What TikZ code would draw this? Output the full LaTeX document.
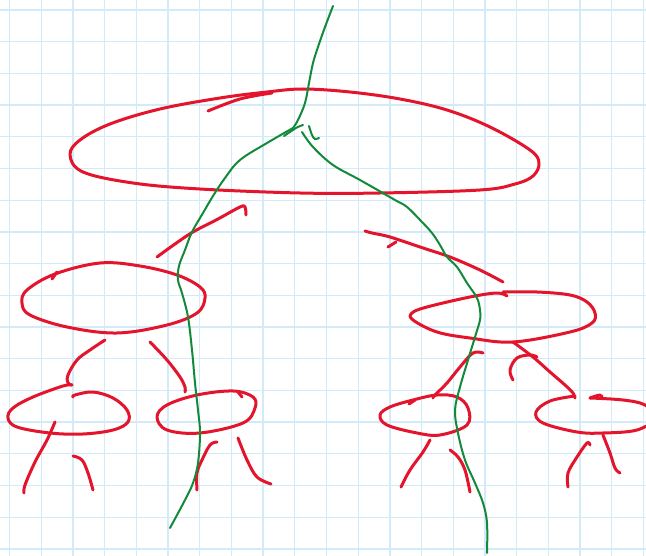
\documentclass[tikz,border=0pt]{standalone}
\definecolor{inkred}{HTML}{E3142C}
\definecolor{inkgreen}{HTML}{128A3A}
\definecolor{gridblue}{HTML}{D3EAF8}
\tikzset{
  redstroke/.style={draw=inkred, line width=3pt, line cap=round, line join=round},
  greenstroke/.style={draw=inkgreen, line width=2pt, line cap=round, line join=round},
  gridline/.style={draw=gridblue, line width=1.3pt},
}
\begin{document}
\begin{tikzpicture}[x=1pt,y=-1pt]
\useasboundingbox (0,0) rectangle (646,556);
\fill[white] (0,0) rectangle (646,556);
\begin{scope}
\clip (0,0) rectangle (646,556);
% graph paper
\foreach \k in {0,...,20} { \draw[gridline] ({9.5+31.7*\k},0) -- ({9.5+31.7*\k},556); }
\foreach \k in {0,...,17} { \draw[gridline] (0,{10+31.7*\k}) -- (646,{10+31.7*\k}); }

% ---------- red tree ----------
% top ellipse
\draw[redstroke] plot[smooth cycle, tension=0.6] coordinates {(350,92) (303,89) (267,92) (220,98) (160,109) (110,124) (80,140) (70,155) (83,172) (133,183) (200,189) (300,193) (380,193) (480,190) (515,184) (533,176) (539,163) (530,150) (490,127) (447,110) (400,99)};
\draw[redstroke] plot[smooth, tension=0.6] coordinates {(208,111) (240,99) (272,93)};
% connectors from top
\draw[redstroke] plot[smooth, tension=0.6] coordinates {(157,257) (175,244) (193,232) (218,219) (240,207) (245,207) (246,215)};
\draw[redstroke] plot[smooth, tension=0.6] coordinates {(365,231) (372,233) (390,237) (423,248) (450,257) (480,270) (503,282)};
\draw[redstroke] (388,247) -- (396,242);

% left middle ellipse
\draw[redstroke] plot[smooth cycle, tension=0.6] coordinates {(55,274) (100,263) (140,266) (177,275) (200,287) (205,298) (197,313) (167,325) (117,333) (67,327) (30,315) (22,303) (27,290)};
\draw[redstroke] (52,279) -- (57,272);
% connectors from left middle
\draw[redstroke] plot[smooth, tension=0.6] coordinates {(105,340) (90,350) (77,360) (68,375) (68,383) (72,385)};
\draw[redstroke] plot[smooth, tension=0.6] coordinates {(150,342) (167,360) (180,377) (185,387) (185,392)};

% lower-left-left ellipse
\draw[redstroke] plot[smooth, tension=0.6] coordinates {(72,385) (63,386) (33,397) (13,408) (8,418) (17,427) (50,433) (83,434) (113,430) (128,422) (127,410) (113,398) (93,392) (75,395) (73,397)};
\draw[redstroke] plot[smooth, tension=0.6] coordinates {(55,422) (47,440) (35,462) (25,485) (24,493)};
\draw[redstroke] plot[smooth, tension=0.6] coordinates {(73,456) (82,460) (88,473) (93,490)};

% lower-left-right ellipse
\draw[redstroke] plot[smooth cycle, tension=0.6] coordinates {(233,391) (253,397) (255,408) (243,423) (200,433) (167,430) (157,417) (167,405) (197,395)};
\draw[redstroke] (238,392) -- (242,397);
\draw[redstroke] plot[smooth, tension=0.6] coordinates {(217,442) (210,445) (202,460) (197,473) (197,490)};
\draw[redstroke] plot[smooth, tension=0.6] coordinates {(238,438) (247,460) (257,477) (271,484)};

% right middle ellipse
\draw[redstroke] plot[smooth, tension=0.6] coordinates {(503,292) (537,292) (570,295) (587,302) (595,313) (592,323) (570,332) (513,342) (470,338) (437,332) (413,320) (412,313) (427,307) (470,297) (497,293) (507,296)};
% connectors from right middle
\draw[redstroke] plot[smooth, tension=0.6] coordinates {(483,353) (473,353) (460,367) (447,383) (435,395) (433,398)};
\draw[redstroke] plot[smooth, tension=0.6] coordinates {(513,342) (533,357) (550,372) (565,385) (573,393) (575,398)};
\draw[redstroke] plot[smooth, tension=0.6] coordinates {(513,380) (510,370) (517,358) (530,355) (537,357)};

% lower-right-left ellipse
\draw[redstroke] plot[smooth cycle, tension=0.6] coordinates {(413,400) (437,395) (457,397) (468,408) (467,425) (440,435) (417,433) (387,425) (380,415) (390,407)};
\draw[redstroke] (409,404) -- (415,400);
\draw[redstroke] plot[smooth, tension=0.6] coordinates {(430,440) (423,452) (410,470) (401,487)};
\draw[redstroke] plot[smooth, tension=0.6] coordinates {(450,450) (458,457) (465,470) (470,492)};

% lower-right-right ellipse
\draw[redstroke] plot[smooth, tension=0.6] coordinates {(575,396) (550,401) (536,412) (543,423) (577,432) (603,433) (637,430) (655,418) (645,405) (623,400) (590,398)};
\draw[redstroke] plot[smooth, tension=0.6] coordinates {(590,398) (600,395) (602,398)};
\draw[redstroke] plot[smooth, tension=0.6] coordinates {(590,445) (587,443) (577,457) (568,473) (568,487)};
\draw[redstroke] plot[smooth, tension=0.6] coordinates {(603,435) (610,453) (615,468) (620,473)};

% ---------- green lines ----------
\draw[greenstroke] plot[smooth, tension=0.6] coordinates {(333,6) (325,27) (318,47) (313,63) (309,83) (305,103) (298,120) (293,128)};
\draw[greenstroke] plot[smooth, tension=0.6] coordinates {(293,128) (267,143) (240,160) (225,178) (213,196) (203,213) (192,232) (185,250) (179,266) (178,280) (182,293) (188,317) (192,350) (195,383) (198,410) (200,433) (198,463) (193,483) (185,500) (170,528)};
\draw[greenstroke] plot[smooth, tension=0.6] coordinates {(302,132) (313,147) (333,165) (360,180) (395,200) (407,207) (422,222) (432,233) (440,245) (447,257) (457,267) (467,283) (477,298) (480,310) (480,320) (475,337) (468,360) (460,387) (455,410) (458,433) (465,460) (475,483) (483,503) (487,523) (487,553)};
\draw[greenstroke] plot[smooth, tension=0.6] coordinates {(284,136) (296,128) (303,125)};
\draw[greenstroke] plot[smooth, tension=0.6] coordinates {(309,126) (312,135) (315,139) (319,138)};
\end{scope}
\end{tikzpicture}
\end{document}
